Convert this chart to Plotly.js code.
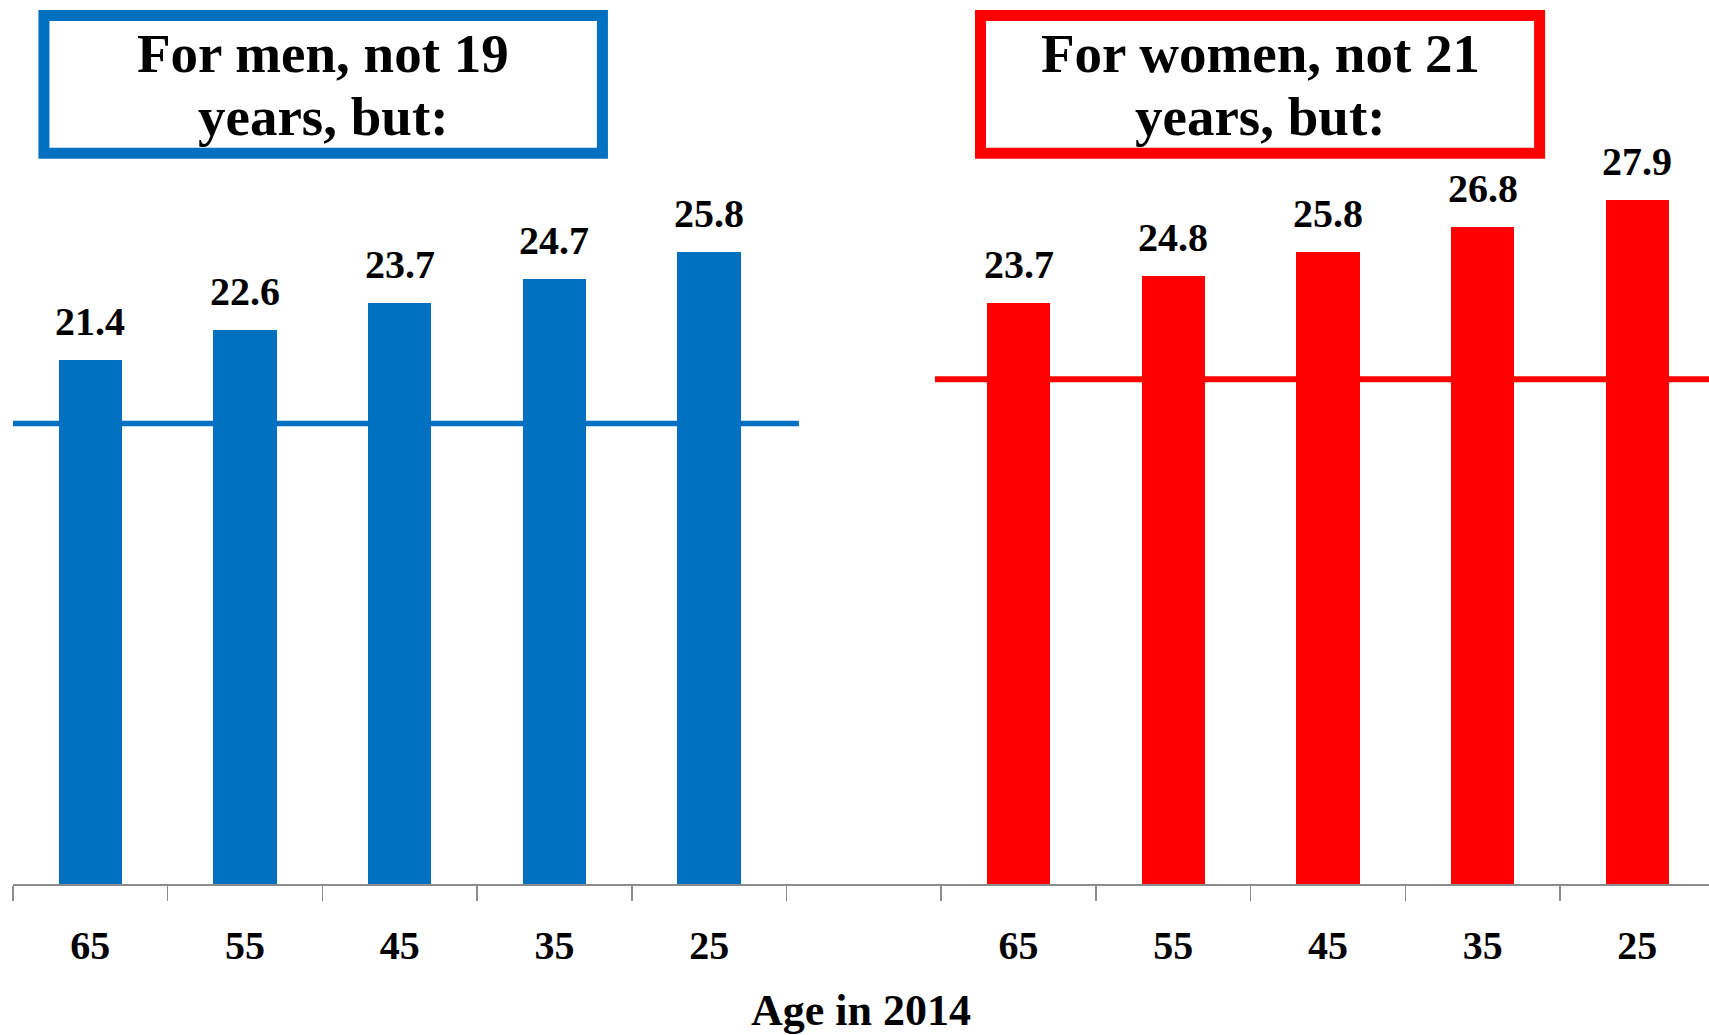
<!DOCTYPE html>
<html>
<head>
<meta charset="utf-8">
<script src="https://cdn.plot.ly/plotly-3.0.1.min.js"></script>
<style>
  html, body { margin: 0; padding: 0; background: #ffffff; }
  #chart { width: 1709px; height: 1035px; }
</style>
</head>
<body>
<div id="chart"></div>
<script>
// ---- data ----
const ageLabels = ['65', '55', '45', '35', '25'];
const menValues = [21.4, 22.6, 23.7, 24.7, 25.8];
const womenValues = [23.7, 24.8, 25.8, 26.8, 27.9];
const menReference = 18.8;     // reference line drawn for men (labelled "not 19")
const womenReference = 20.6;   // reference line drawn for women (labelled "not 21")
const menBoxLines = ['For men, not 19', 'years, but:'];
const womenBoxLines = ['For women, not 21', 'years, but:'];
const axisTitle = 'Age in 2014';

// ---- styles ----
const BLUE = '#0070C0';
const RED = '#FF0000';
const FONT = '"Liberation Serif", "Times New Roman", serif';

const menX = ageLabels.map((_, i) => i);
const womenX = ageLabels.map((_, i) => i + ageLabels.length + 1);
const nSlots = ageLabels.length * 2 + 1;
const boundaryTicks = [];
for (let i = 0; i <= nSlots; i++) boundaryTicks.push(i - 0.5);

const xRange = [-0.5, 10.463];
const yRange = [0, 36.08];

const traces = [
  {
    type: 'bar', x: menX, y: menValues, width: 0.41,
    marker: { color: BLUE }, hoverinfo: 'skip', showlegend: false
  },
  {
    type: 'bar', x: womenX, y: womenValues, width: 0.41,
    marker: { color: RED }, hoverinfo: 'skip', showlegend: false
  },
  {
    type: 'scatter', mode: 'lines',
    x: [menX[0] - 0.5, menX[menX.length - 1] + 0.58],
    y: [menReference, menReference],
    line: { color: BLUE, width: 5.5 }, hoverinfo: 'skip', showlegend: false
  },
  {
    type: 'scatter', mode: 'lines',
    x: [womenX[0] - 0.54, womenX[womenX.length - 1] + 1.5],
    y: [womenReference, womenReference],
    line: { color: RED, width: 6 }, hoverinfo: 'skip', showlegend: false
  },
  // invisible trace to activate the label axis
  {
    type: 'scatter', mode: 'markers', x: [...menX, ...womenX],
    y: [...menValues, ...womenValues], xaxis: 'x2',
    marker: { opacity: 0 }, hoverinfo: 'skip', showlegend: false
  }
];

const annotations = [];
menX.forEach((x, i) => annotations.push({
  x: x, y: menValues[i], xref: 'x', yref: 'y', text: '<b>' + menValues[i].toFixed(1) + '</b>',
  showarrow: false, yanchor: 'bottom', yshift: 14,
  font: { family: FONT, size: 40, color: '#000' }
}));
womenX.forEach((x, i) => annotations.push({
  x: x, y: womenValues[i], xref: 'x', yref: 'y', text: '<b>' + womenValues[i].toFixed(1) + '</b>',
  showarrow: false, yanchor: 'bottom', yshift: 14,
  font: { family: FONT, size: 40, color: '#000' }
}));
const boxLineY = [33.88, 31.33];
menBoxLines.forEach((t, i) => annotations.push({
  x: 1.504, y: boxLineY[i], xref: 'x', yref: 'y', text: '<b>' + t + '</b>',
  showarrow: false, yanchor: 'middle', xanchor: 'center',
  font: { family: FONT, size: 55, color: '#000' }
}));
womenBoxLines.forEach((t, i) => annotations.push({
  x: 7.561, y: boxLineY[i], xref: 'x', yref: 'y', text: '<b>' + t + '</b>',
  showarrow: false, yanchor: 'middle', xanchor: 'center',
  font: { family: FONT, size: 55, color: '#000' }
}));

const shapes = [
  { type: 'rect', xref: 'x', yref: 'y', x0: -0.3, x1: 3.31, y0: 29.83, y1: 35.45,
    line: { color: BLUE, width: 11 }, fillcolor: 'rgba(0,0,0,0)', layer: 'above' },
  { type: 'rect', xref: 'x', yref: 'y', x0: 5.754, x1: 9.368, y0: 29.83, y1: 35.45,
    line: { color: RED, width: 11 }, fillcolor: 'rgba(0,0,0,0)', layer: 'above' }
];

const layout = {
  width: 1709, height: 1035, autosize: false,
  margin: { l: 13, r: 0, t: 0, b: 151, pad: 0 },
  paper_bgcolor: '#ffffff', plot_bgcolor: '#ffffff',
  bargap: 0, barmode: 'overlay',
  font: { family: FONT, color: '#000' },
  xaxis: {
    range: xRange, showgrid: false, zeroline: false,
    showline: true, linecolor: '#8c8c8c', linewidth: 2,
    tickmode: 'array', tickvals: boundaryTicks, ticktext: boundaryTicks.map(() => ''),
    ticks: 'outside', ticklen: 15, tickwidth: 1.5, tickcolor: '#8c8c8c',
    showticklabels: false, fixedrange: true
  },
  xaxis2: {
    overlaying: 'x', anchor: 'y', side: 'bottom', range: xRange,
    showgrid: false, zeroline: false, showline: false,
    tickmode: 'array', tickvals: [...menX, ...womenX],
    ticktext: [...ageLabels, ...ageLabels].map(t => '<b>' + t + '</b>'),
    ticks: 'outside', ticklen: 26, tickcolor: 'rgba(0,0,0,0)',
    tickfont: { family: FONT, size: 40, color: '#000' },
    title: { text: '<b>' + axisTitle + '</b>', font: { family: FONT, size: 44, color: '#000' }, standoff: 27 },
    fixedrange: true
  },
  yaxis: {
    range: yRange, visible: false, showgrid: false, zeroline: false, fixedrange: true
  },
  annotations: annotations,
  shapes: shapes
};

Plotly.newPlot('chart', traces, layout, { displayModeBar: false, staticPlot: true });
</script>
</body>
</html>
